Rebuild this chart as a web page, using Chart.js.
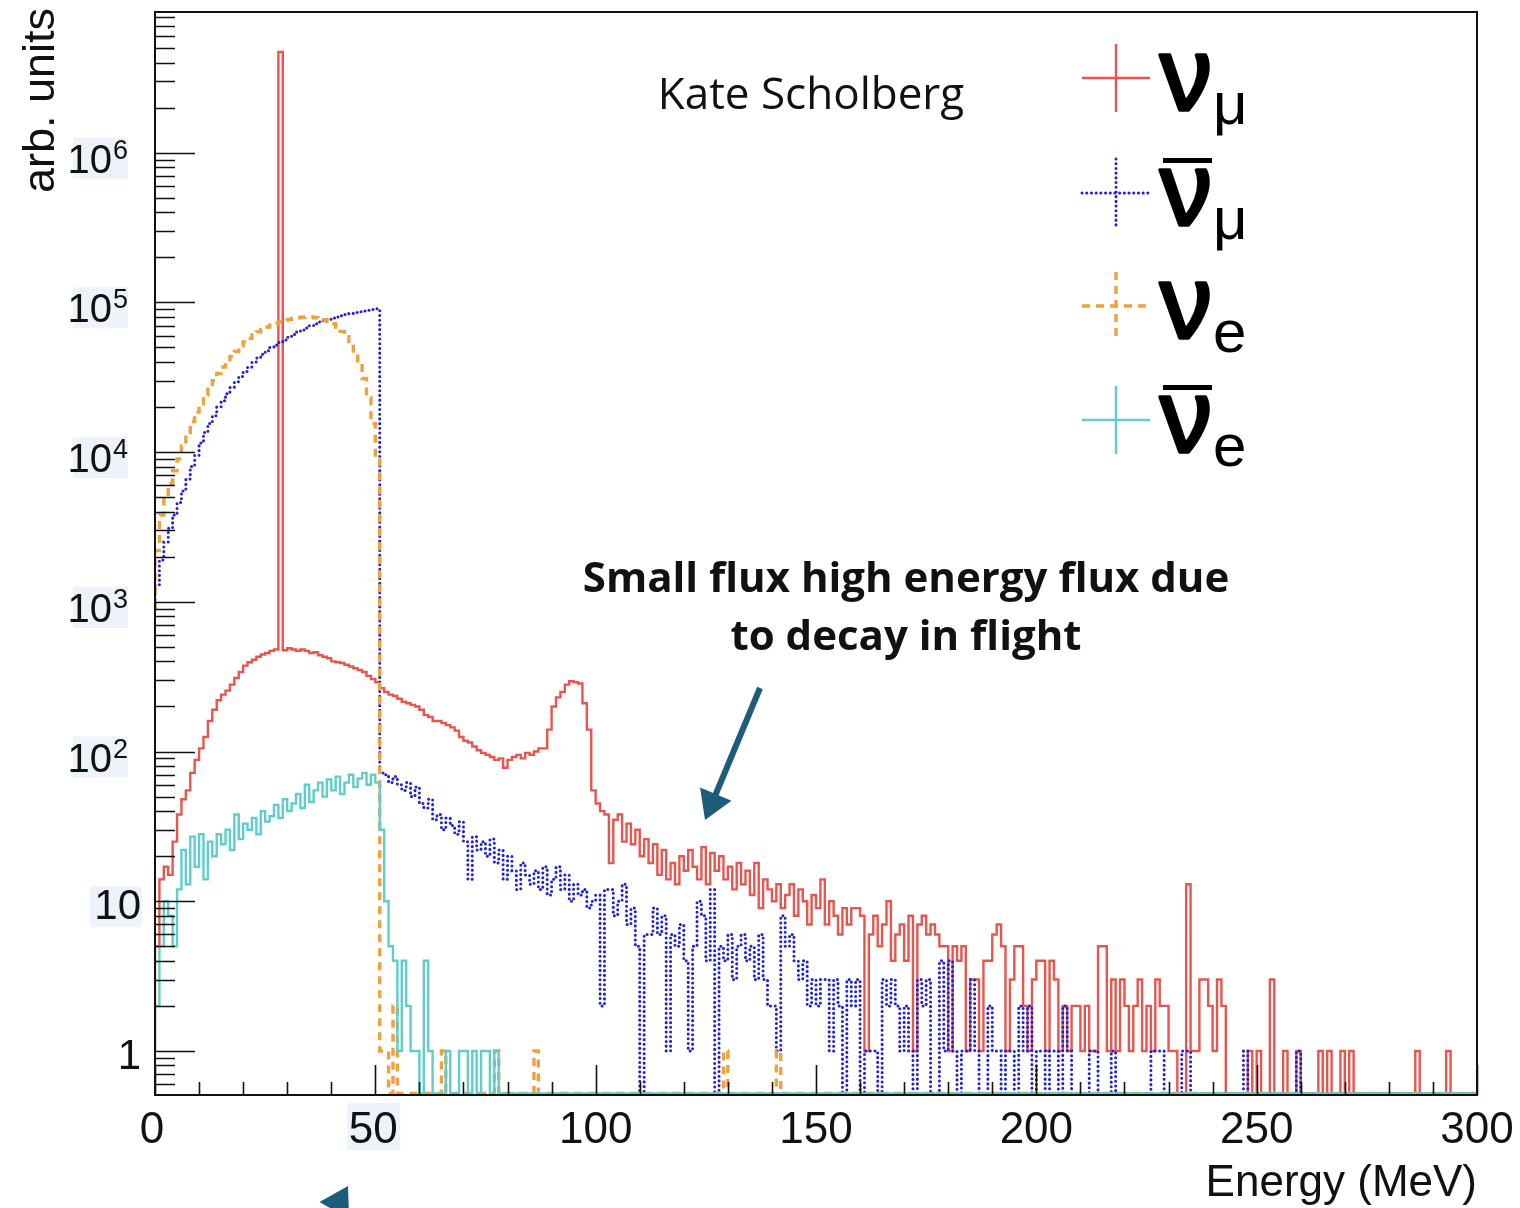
<!DOCTYPE html>
<html>
<head>
<meta charset="utf-8">
<title>Neutrino flux spectra</title>
<script src="https://cdn.jsdelivr.net/npm/chart.js@4.4.1/dist/chart.umd.min.js"></script>
<style>
  html, body { margin: 0; padding: 0; background: #ffffff; }
  #wrap { width: 1520px; height: 1208px; }
</style>
</head>
<body>
<div id="wrap"><canvas id="flux" width="1520" height="1208"></canvas></div>
<script>
// Spectra per 1 MeV bin, bin i covers [i, i+1) MeV, 0..299 MeV
const numuFlux = [
  1, 5, 14, 17, 15, 25, 38, 48, 55, 72,
  88, 105, 125, 160, 190, 220, 240, 255, 280, 310,
  340, 375, 395, 410, 430, 445, 455, 470, 480, 4700000,
  475, 490, 480, 470, 480, 470, 455, 460, 440, 430,
  420, 400, 395, 390, 380, 370, 360, 350, 340, 320,
  305, 290, 265, 250, 240, 235, 225, 215, 210, 205,
  200, 190, 175, 170, 160, 160, 155, 150, 145, 138,
  125, 118, 115, 108, 102, 98, 95, 92, 88, 90,
  78, 88, 92, 95, 90, 98, 95, 100, 105, 105,
  140, 200, 230, 250, 280, 295, 290, 285, 210, 140,
  55, 45, 40, 38, 18, 35, 38, 25, 33, 24,
  30, 20, 26, 18, 24, 15, 22, 14, 18, 13,
  20, 16, 22, 17, 14, 23, 13, 21, 16, 20,
  14, 17, 12, 18, 13, 16, 11, 18, 9, 14,
  12, 10, 13, 9, 11, 13, 8, 12, 10, 7,
  11, 9, 14, 7, 10, 8, 6, 9, 7, 9,
  9, 8, 1, 6, 8, 5, 7, 10, 4, 6,
  7, 4, 8, 1, 7, 8, 6, 7, 6, 5,
  5, 1, 5, 4, 5, 1, 3, 3, 1, 4,
  4, 6, 7, 5, 1, 3, 5, 5, 2, 1,
  3, 4, 4, 1, 4, 3, 1, 2, 1, 2,
  2, 1, 2, 1, 1, 5, 5, 1, 3, 1,
  3, 2, 1, 2, 3, 1, 2, 1, 3, 2,
  2, 1, 1, 0, 0, 13, 1, 1, 3, 3,
  2, 1, 3, 2, 0, 0, 0, 0, 0, 1,
  0, 1, 0, 0, 3, 0, 0, 1, 0, 0,
  1, 0, 0, 0, 0, 1, 0, 1, 0, 0,
  1, 0, 1, 0, 0, 0, 0, 0, 0, 0,
  0, 0, 0, 0, 0, 0, 0, 1, 0, 0,
  0, 0, 0, 0, 1, 0, 0, 0, 0, 0
];

const numubarFlux = [
  900, 1300, 1900, 2500, 3100, 3800, 4600, 5500, 6600, 8000,
  9500, 11500, 13500, 15500, 17500, 20000, 22000, 24500, 27000, 29500,
  32000, 34500, 37000, 40000, 42500, 45000, 47500, 50000, 52000, 54000,
  56000, 58500, 61000, 63500, 65500, 67500, 70000, 72000, 74000, 75500,
  77000, 78500, 80000, 81500, 83000, 84000, 85500, 86500, 87500, 88500,
  89500, 90500, 72, 70, 62, 68, 60, 55, 62, 50,
  58, 45, 42, 48, 35, 38, 30, 36, 32, 28,
  34, 25, 14, 27, 22, 25, 20, 26, 18, 22,
  14, 20, 16, 12, 18, 15, 13, 16, 12, 17,
  11, 14, 17, 12, 15, 10, 13, 11, 12, 9,
  10, 11, 2, 12, 12, 8, 10, 13, 7, 9,
  5, 0, 6, 6, 9, 6, 8, 1, 6, 5,
  7, 4, 1, 5, 10, 8, 4, 12, 0, 5,
  4, 6, 3, 5, 6, 4, 5, 3, 6, 3,
  2, 2, 1, 8, 5, 6, 4, 3, 4, 2,
  3, 2, 3, 3, 1, 3, 2, 0, 3, 2,
  3, 0, 1, 1, 1, 0, 3, 2, 3, 2,
  1, 2, 1, 0, 3, 2, 3, 0, 0, 4,
  1, 4, 1, 0, 1, 1, 3, 1, 0, 0,
  2, 1, 1, 0, 1, 1, 0, 2, 1, 2,
  0, 1, 1, 0, 1, 1, 0, 2, 1, 0,
  0, 0, 0, 1, 1, 0, 0, 0, 1, 0,
  0, 0, 0, 0, 0, 0, 0, 1, 1, 1,
  0, 0, 0, 0, 1, 1, 0, 0, 0, 0,
  0, 0, 0, 0, 0, 0, 0, 0, 1, 0,
  0, 0, 0, 0, 0, 0, 0, 0, 0, 0,
  1, 0, 0, 0, 0, 0, 0, 0, 0, 0,
  0, 0, 0, 0, 0, 0, 0, 0, 0, 0,
  0, 0, 0, 0, 0, 0, 0, 0, 0, 0,
  0, 0, 0, 0, 0, 0, 0, 0, 0, 0
];

const nueFlux = [
  900, 2200, 3800, 5000, 6200, 7500, 9000, 11000, 13500, 16000,
  18500, 21000, 24000, 27000, 30000, 33500, 37000, 40000, 43500, 47000,
  51000, 54500, 57500, 60500, 63500, 66000, 68500, 70500, 72500, 74000,
  75500, 77000, 78000, 79000, 79500, 80000, 80000, 79000, 78000, 76500,
  74500, 72000, 68500, 64000, 59000, 53000, 46000, 39000, 31000, 23000,
  15500, 9000, 1, 1, 0, 2, 0, 0, 0, 0,
  0, 0, 0, 0, 0, 0, 1, 0, 0, 0,
  0, 0, 0, 0, 0, 0, 0, 0, 1, 0,
  0, 0, 0, 0, 0, 0, 0, 1, 0, 0,
  0, 0, 0, 0, 0, 0, 0, 0, 0, 0,
  0, 0, 0, 0, 0, 0, 0, 0, 0, 0,
  0, 0, 0, 0, 0, 0, 0, 0, 0, 0,
  0, 0, 0, 0, 0, 0, 0, 0, 0, 0,
  1, 0, 0, 0, 0, 0, 0, 0, 0, 0,
  0, 0, 1, 0, 0, 0, 0, 0, 0, 0,
  0, 0, 0, 0, 0, 0, 0, 0, 0, 0,
  0, 0, 0, 0, 0, 0, 0, 0, 0, 0,
  0, 0, 0, 0, 0, 0, 0, 0, 0, 0,
  0, 0, 0, 0, 0, 0, 0, 0, 0, 0,
  0, 0, 0, 0, 0, 0, 0, 0, 0, 0,
  0, 0, 0, 0, 0, 0, 0, 0, 0, 0,
  0, 0, 0, 0, 0, 0, 0, 0, 0, 0,
  0, 0, 0, 0, 0, 0, 0, 0, 0, 0,
  0, 0, 0, 0, 0, 0, 0, 0, 0, 0,
  0, 0, 0, 0, 0, 0, 0, 0, 0, 0,
  0, 0, 0, 0, 0, 0, 0, 0, 0, 0,
  0, 0, 0, 0, 0, 0, 0, 0, 0, 0,
  0, 0, 0, 0, 0, 0, 0, 0, 0, 0,
  0, 0, 0, 0, 0, 0, 0, 0, 0, 0,
  0, 0, 0, 0, 0, 0, 0, 0, 0, 0
];

const nuebarFlux = [
  1, 2, 5, 10, 8, 5, 12, 22, 13, 27,
  17, 28, 14, 25, 20, 28, 24, 30, 22, 38,
  26, 33, 30, 36, 28, 40, 34, 37, 44, 36,
  48, 40, 45, 52, 42, 60, 46, 55, 62, 50,
  65, 55, 68, 52, 62, 70, 58, 66, 72, 60,
  70, 62, 30, 10, 5, 4, 1, 4, 2, 1,
  1, 0, 4, 1, 0, 0, 0, 1, 0, 0,
  1, 1, 0, 1, 0, 1, 1, 0, 1, 0,
  0, 0, 0, 0, 0, 0, 0, 0, 0, 0,
  0, 0, 0, 0, 0, 0, 0, 0, 0, 0,
  0, 0, 0, 0, 0, 0, 0, 0, 0, 0,
  0, 0, 0, 0, 0, 0, 0, 0, 0, 0,
  0, 0, 0, 0, 0, 0, 0, 0, 0, 0,
  0, 0, 0, 0, 0, 0, 0, 0, 0, 0,
  0, 0, 0, 0, 0, 0, 0, 0, 0, 0,
  0, 0, 0, 0, 0, 0, 0, 0, 0, 0,
  0, 0, 0, 0, 0, 0, 0, 0, 0, 0,
  0, 0, 0, 0, 0, 0, 0, 0, 0, 0,
  0, 0, 0, 0, 0, 0, 0, 0, 0, 0,
  0, 0, 0, 0, 0, 0, 0, 0, 0, 0,
  0, 0, 0, 0, 0, 0, 0, 0, 0, 0,
  0, 0, 0, 0, 0, 0, 0, 0, 0, 0,
  0, 0, 0, 0, 0, 0, 0, 0, 0, 0,
  0, 0, 0, 0, 0, 0, 0, 0, 0, 0,
  0, 0, 0, 0, 0, 0, 0, 0, 0, 0,
  0, 0, 0, 0, 0, 0, 0, 0, 0, 0,
  0, 0, 0, 0, 0, 0, 0, 0, 0, 0,
  0, 0, 0, 0, 0, 0, 0, 0, 0, 0,
  0, 0, 0, 0, 0, 0, 0, 0, 0, 0,
  0, 0, 0, 0, 0, 0, 0, 0, 0, 0
];

// axis tick labels
const xTickLabels = [0, 50, 100, 150, 200, 250, 300];
const yDecadeLabels = [0, 1, 2, 3, 4, 5, 6];

const X_MIN = 0, X_MAX = 300, BIN_WIDTH = 1;
const Y_MIN = 0.508, Y_MAX = 8.7e6;
const EMPTY_LEVEL = 0.52;   // empty bins sit on the bottom of the frame

const FONT_AXIS = '"Liberation Sans", Arial, sans-serif';
const FONT_NOTE = '"Open Sans", "Noto Sans", sans-serif';
const ARROW_COLOR = '#1c5d7c';
const LABEL_BOX = '#eef3fb';

// histogram -> stepped line points (bin edges)
function toSteps(values) {
  const pts = values.map((v, i) => ({ x: X_MIN + i * BIN_WIDTH, y: v > 0 ? v : EMPTY_LEVEL }));
  const last = values[values.length - 1];
  pts.push({ x: X_MIN + values.length * BIN_WIDTH, y: last > 0 ? last : EMPTY_LEVEL });
  return pts;
}

const series = [
  { key: 'numu',    sub: 'μ', bar: false, data: numuFlux,    color: '#e9544c', width: 2.4, dash: [],        cap: 'butt',  order: 4 },
  { key: 'numubar', sub: 'μ', bar: true,  data: numubarFlux, color: '#2222d4', width: 3,   dash: [0.1, 4.6], cap: 'round', order: 3 },
  { key: 'nue',     sub: 'e', bar: false, data: nueFlux,     color: '#f0a03c', width: 3.4, dash: [8, 6],     cap: 'butt',  order: 2 },
  { key: 'nuebar',  sub: 'e', bar: true,  data: nuebarFlux,  color: '#5ecdcc', width: 2.4, dash: [],        cap: 'butt',  order: 1 }
];

// background + faint boxes behind some tick labels
const backdrop = {
  id: 'backdrop',
  beforeDraw(chart) {
    const { ctx, scales: { x, y } } = chart;
    ctx.save();
    ctx.fillStyle = '#ffffff';
    ctx.fillRect(0, 0, chart.width, chart.height);
    ctx.fillStyle = LABEL_BOX;
    yDecadeLabels.forEach(d => {
      const py = y.getPixelForValue(Math.pow(10, d));
      if (d >= 2) ctx.fillRect(73, py - 15, 55, 41);
      else if (d === 1) ctx.fillRect(90, py - 15, 52, 41);
    });
    const p50 = x.getPixelForValue(50);
    ctx.fillRect(p50 - 28, 1103, 53, 47);
    ctx.restore();
  }
};

// ROOT-like frame, ticks and labels
const frame = {
  id: 'frame',
  afterDatasetsDraw(chart) {
    const { ctx, chartArea: { left, right, top, bottom }, scales: { x, y } } = chart;
    ctx.save();
    ctx.strokeStyle = '#111';
    ctx.lineWidth = 2;
    ctx.setLineDash([]);
    ctx.strokeRect(left, top, right - left, bottom - top);

    ctx.lineWidth = 1.6;
    ctx.beginPath();
    for (let d = -1; d <= 6; d++) {
      for (let m = 1; m <= 9; m++) {
        const v = m * Math.pow(10, d);
        if (v < Y_MIN || v > Y_MAX) continue;
        const py = Math.round(y.getPixelForValue(v)) + 0.5;
        ctx.moveTo(left, py);
        ctx.lineTo(left + (m === 1 ? 40 : 20), py);
      }
    }
    for (let t = X_MIN; t <= X_MAX; t += 10) {
      const px = Math.round(x.getPixelForValue(t)) + 0.5;
      ctx.moveTo(px, bottom);
      ctx.lineTo(px, bottom - (t % 50 === 0 ? 30 : 13));
    }
    ctx.stroke();
    ctx.restore();
  },
  afterDraw(chart) {
    const { ctx, chartArea: { right }, scales: { x, y } } = chart;
    ctx.save();
    ctx.fillStyle = '#111';
    ctx.textBaseline = 'alphabetic';

    // x labels
    ctx.font = '44px ' + FONT_AXIS;
    ctx.textAlign = 'center';
    xTickLabels.forEach(t => {
      const px = x.getPixelForValue(t) - (t === 0 ? 3 : 0) - (t === 50 ? 2 : 0);
      ctx.fillText(String(t), px, 1143);
    });

    // y labels
    yDecadeLabels.forEach(d => {
      const py = y.getPixelForValue(Math.pow(10, d));
      if (d === 0 || d === 1) {
        ctx.font = '42px ' + FONT_AXIS;
        ctx.textAlign = 'right';
        ctx.fillText(d === 0 ? '1' : '10', 141, py + 18);
      } else {
        ctx.font = '40px ' + FONT_AXIS;
        ctx.textAlign = 'right';
        ctx.fillText('10', 112, py + 20);
        ctx.font = '27px ' + FONT_AXIS;
        ctx.textAlign = 'left';
        ctx.fillText(String(d), 113, py + 6);
      }
    });

    // axis titles
    ctx.font = '44px ' + FONT_AXIS;
    ctx.textAlign = 'right';
    ctx.fillText('Energy (MeV)', right, 1196);
    ctx.save();
    ctx.translate(54, 8);
    ctx.rotate(-Math.PI / 2);
    ctx.font = '45px ' + FONT_AXIS;
    ctx.textAlign = 'right';
    ctx.fillText('arb. units', 0, 0);
    ctx.restore();

    // author tag
    ctx.font = '44px ' + FONT_NOTE;
    ctx.textAlign = 'center';
    ctx.fillText('Kate Scholberg', 811, 109);

    // note
    ctx.font = 'bold 42px ' + FONT_NOTE;
    ctx.fillText('Small flux high energy flux due', 906, 592);
    ctx.fillText('to decay in flight', 906, 650);

    drawArrow(ctx, 760, 688, 705, 820, 6, 28, 17);
    drawArrow(ctx, 302, 1268, 348, 1186, 6, 28, 17);

    drawLegend(ctx);
    ctx.restore();
  }
};

function drawArrow(ctx, x0, y0, x1, y1, w, headLen, headHalf) {
  const dx = x1 - x0, dy = y1 - y0;
  const len = Math.hypot(dx, dy);
  const ux = dx / len, uy = dy / len;
  const bx = x1 - ux * headLen, by = y1 - uy * headLen;
  ctx.save();
  ctx.strokeStyle = ARROW_COLOR;
  ctx.fillStyle = ARROW_COLOR;
  ctx.lineWidth = w;
  ctx.setLineDash([]);
  ctx.beginPath();
  ctx.moveTo(x0, y0);
  ctx.lineTo(bx + ux * 2, by + uy * 2);
  ctx.stroke();
  ctx.beginPath();
  ctx.moveTo(x1, y1);
  ctx.lineTo(bx - uy * headHalf, by + ux * headHalf);
  ctx.lineTo(bx + uy * headHalf, by - ux * headHalf);
  ctx.closePath();
  ctx.fill();
  ctx.restore();
}

// legend: crossed line samples plus nu symbols
const legendRows = [78, 193, 306, 420];
function drawLegend(ctx) {
  series.forEach((s, i) => {
    const cy = legendRows[i];
    ctx.save();
    ctx.strokeStyle = s.color;
    ctx.lineWidth = s.width;
    ctx.lineCap = s.cap;
    ctx.setLineDash(s.dash);
    ctx.beginPath();
    ctx.moveTo(1082, cy);
    ctx.lineTo(1150, cy);
    ctx.moveTo(1116, cy - 34);
    ctx.lineTo(1116, cy + 34);
    ctx.stroke();
    ctx.restore();

    ctx.save();
    ctx.fillStyle = '#000';
    ctx.strokeStyle = '#000';
    ctx.lineWidth = 3.5;
    ctx.lineJoin = 'round';
    ctx.textAlign = 'left';
    ctx.font = '104px ' + FONT_AXIS;
    ctx.fillText('ν', 1160, cy + 32);
    ctx.strokeText('ν', 1160, cy + 32);
    const nuW = ctx.measureText('ν').width;
    if (s.bar) ctx.fillRect(1163, cy - 35, 49, 5);
    ctx.font = '60px ' + FONT_AXIS;
    ctx.fillText(s.sub, 1160 + nuW + 1, cy + 46);
    ctx.restore();
  });
}

const ctx = document.getElementById('flux').getContext('2d');
const chart = new Chart(ctx, {
  type: 'line',
  data: {
    datasets: series.map(s => ({
      label: s.key,
      data: toSteps(s.data),
      stepped: 'after',
      borderColor: s.color,
      borderWidth: s.width,
      borderDash: s.dash,
      borderCapStyle: s.cap,
      fill: false,
      pointRadius: 0,
      tension: 0,
      order: s.order
    }))
  },
  options: {
    responsive: false,
    animation: false,
    events: [],
    layout: { padding: { left: 155, right: 43, top: 12, bottom: 113 } },
    plugins: {
      legend: { display: false },
      tooltip: { enabled: false }
    },
    scales: {
      x: { type: 'linear', min: X_MIN, max: X_MAX, display: false },
      y: { type: 'logarithmic', min: Y_MIN, max: Y_MAX, display: false }
    }
  },
  plugins: [backdrop, frame]
});
</script>
</body>
</html>
